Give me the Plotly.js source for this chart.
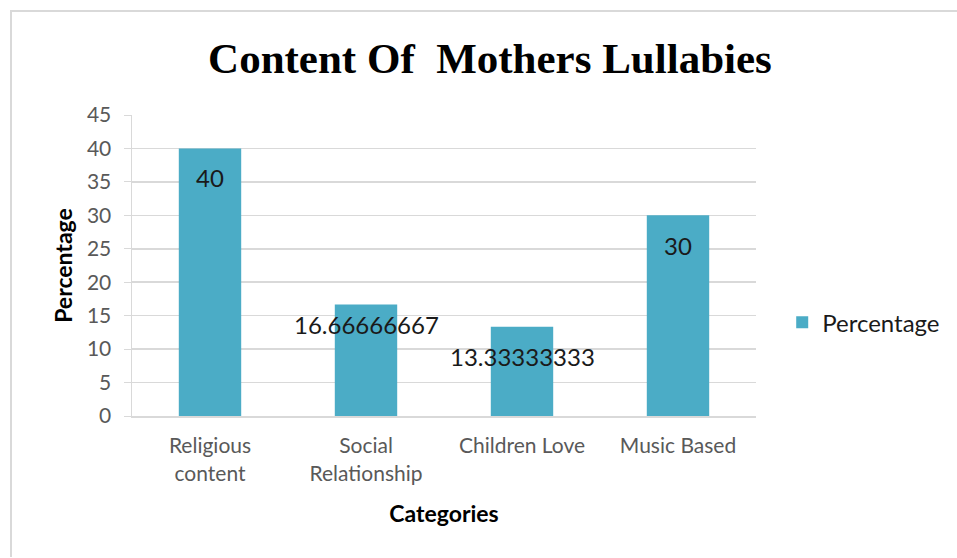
<!DOCTYPE html>
<html><head><meta charset="utf-8">
<script src="https://cdn.plot.ly/plotly-3.0.1.min.js"></script>
<style>
html,body{margin:0;padding:0;background:#fff;}
#frame{position:absolute;left:10px;top:10px;width:1000px;height:547px;border-left:2px solid #d9d9d9;border-top:2px solid #d9d9d9;box-sizing:border-box;}
#chart{position:absolute;left:0;top:0;width:957px;height:558px;}
</style></head>
<body>
<div id="frame"></div>
<div id="chart"></div>
<script>
const categories = ["Religious content", "Social Relationship", "Children Love", "Music Based"];
const tickLabels = ["Religious<br>content", "Social<br>Relationship", "Children Love", "Music Based"];
const percentage = [40, 16.66666667, 13.33333333, 30];
const valueLabels = ["40", "16.66666667", "13.33333333", "30"];
const labelShift = [-29, -20, -30, -30];

const trace = {
  type: 'bar', x: categories, y: percentage, name: 'Percentage',
  marker: {color: '#4BACC6'}, hoverinfo: 'x+y'
};
const annotations = categories.map((c, i) => ({
  x: c, y: percentage[i], xref: 'x', yref: 'y', text: valueLabels[i],
  showarrow: false, yshift: labelShift[i], yanchor: 'middle',
  font: {family: 'Lato, "Open Sans", sans-serif', size: 24, color: '#1a1a1a'}
}));
const layout = {
  width: 957, height: 558,
  paper_bgcolor: 'rgba(0,0,0,0)', plot_bgcolor: 'rgba(0,0,0,0)',
  margin: {l: 132, r: 201, t: 115, b: 142},
  title: {text: '<b>Content Of  Mothers Lullabies</b>', x: 0.512, xanchor: 'center', y: 0.897, yanchor: 'middle',
    font: {family: '"Liberation Serif", "Times New Roman", serif', size: 43, color: '#000'}},
  bargap: 0.6,
  xaxis: {
    tickvals: categories, ticktext: tickLabels, tickmode: 'array',
    showline: true, linecolor: '#d9d9d9', linewidth: 2, ticks: '',
    ticklabelstandoff: 10,
    tickfont: {family: 'Lato, "Open Sans", sans-serif', size: 21, color: '#595959'},
    title: {text: '<b>Categories</b>', standoff: 22, font: {family: 'Lato, "Open Sans", sans-serif', size: 23, color: '#000'}},
    automargin: false
  },
  yaxis: {
    range: [0, 45], dtick: 5, tick0: 0,
    showgrid: true, gridcolor: '#d9d9d9', gridwidth: 1.5,
    showline: true, linecolor: '#d9d9d9', linewidth: 1.5,
    ticks: 'outside', ticklen: 7, tickcolor: '#d9d9d9', zeroline: false,
    ticklabelstandoff: 8,
    tickfont: {family: 'Lato, "Open Sans", sans-serif', size: 21, color: '#595959'},
    title: {text: '<b>Percentage</b>', standoff: 8, font: {family: 'Lato, "Open Sans", sans-serif', size: 23, color: '#000'}},
    automargin: false
  },
  showlegend: true,
  legend: {x: 1.042, xanchor: 'left', y: 0.31, yanchor: 'middle', bgcolor: 'rgba(0,0,0,0)',
    font: {family: 'Lato, "Open Sans", sans-serif', size: 24, color: '#1a1a1a'}, itemwidth: 30},
  annotations: annotations
};
Plotly.newPlot('chart', [trace], layout, {displayModeBar: false, staticPlot: true});
</script>
</body></html>
